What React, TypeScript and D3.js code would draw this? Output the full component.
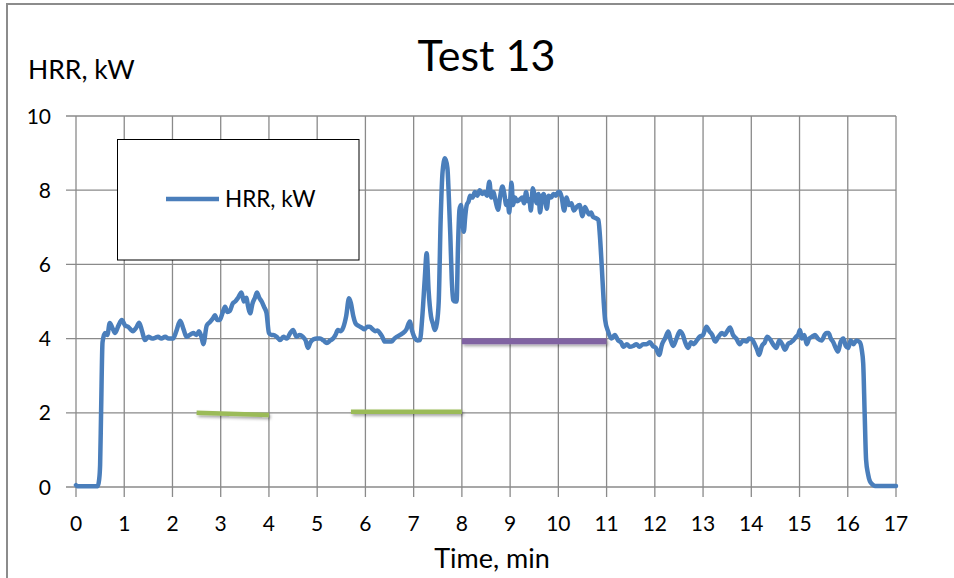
import React from "react";
import * as d3 from "d3";

// ---- data ----
const timeMin: number[] = [
  0.00, 0.03, 0.45, 0.48, 0.50, 0.52, 0.55, 0.60, 0.65, 0.70, 0.75, 0.81, 0.88, 0.95, 1.02, 1.08, 1.13, 1.18, 1.25, 1.31,
  1.37, 1.43, 1.50, 1.58, 1.64, 1.70, 1.77, 1.85, 1.92, 2.01, 2.08, 2.16, 2.23, 2.29, 2.36, 2.43, 2.50, 2.55, 2.60, 2.64,
  2.71, 2.78, 2.84, 2.88, 2.93, 2.98, 3.04, 3.09, 3.14, 3.19, 3.25, 3.30, 3.36, 3.43, 3.48, 3.53, 3.57, 3.61, 3.66, 3.71,
  3.75, 3.80, 3.85, 3.90, 3.95, 4.00, 4.05, 4.09, 4.16, 4.23, 4.30, 4.37, 4.44, 4.50, 4.57, 4.64, 4.70, 4.76, 4.81, 4.86,
  4.92, 5.00, 5.06, 5.13, 5.20, 5.27, 5.33, 5.38, 5.43, 5.49, 5.54, 5.60, 5.66, 5.70, 5.75, 5.80, 5.85, 5.92, 5.98, 6.04,
  6.09, 6.15, 6.20, 6.25, 6.30, 6.35, 6.40, 6.47, 6.54, 6.60, 6.65, 6.72, 6.78, 6.85, 6.92, 6.97, 7.03, 7.08, 7.13, 7.18,
  7.23, 7.27, 7.31, 7.36, 7.40, 7.44, 7.48, 7.52, 7.56, 7.60, 7.65, 7.70, 7.73, 7.76, 7.79, 7.82, 7.86, 7.89, 7.92, 7.95,
  7.98, 8.01, 8.04, 8.07, 8.10, 8.14, 8.17, 8.22, 8.27, 8.32, 8.37, 8.42, 8.47, 8.52, 8.57, 8.61, 8.65, 8.70, 8.75, 8.79,
  8.84, 8.88, 8.92, 8.95, 8.98, 9.03, 9.06, 9.10, 9.15, 9.20, 9.25, 9.29, 9.33, 9.37, 9.40, 9.43, 9.47, 9.51, 9.55, 9.59,
  9.62, 9.66, 9.70, 9.73, 9.76, 9.80, 9.85, 9.90, 9.95, 10.00, 10.03, 10.07, 10.12, 10.17, 10.22, 10.27, 10.32, 10.38, 10.44, 10.50,
  10.55, 10.59, 10.64, 10.68, 10.72, 10.77, 10.83, 10.86, 10.90, 10.94, 10.97, 11.03, 11.10, 11.17, 11.24, 11.30, 11.35, 11.42, 11.48, 11.55,
  11.62, 11.68, 11.76, 11.83, 11.90, 11.96, 12.02, 12.09, 12.15, 12.21, 12.28, 12.33, 12.38, 12.45, 12.52, 12.58, 12.63, 12.69, 12.75, 12.81,
  12.87, 12.93, 13.00, 13.07, 13.13, 13.19, 13.25, 13.32, 13.39, 13.45, 13.50, 13.56, 13.62, 13.69, 13.76, 13.83, 13.90, 13.95, 14.01, 14.07,
  14.12, 14.16, 14.22, 14.28, 14.33, 14.39, 14.45, 14.52, 14.58, 14.64, 14.70, 14.76, 14.82, 14.87, 14.93, 14.97, 15.01, 15.05, 15.10, 15.15,
  15.20, 15.26, 15.32, 15.38, 15.46, 15.52, 15.56, 15.60, 15.65, 15.70, 15.75, 15.80, 15.85, 15.91, 15.96, 16.01, 16.06, 16.12, 16.18, 16.25,
  16.29, 16.32, 16.35, 16.38, 16.42, 16.46, 16.52, 16.56, 17.00,
];

const hrrKW: number[] = [
  0.05, 0.02, 0.02, 0.2, 0.6, 2.0, 3.9, 4.15, 4.1, 4.42, 4.3, 4.15, 4.35, 4.5, 4.35, 4.32, 4.25, 4.2, 4.3, 4.43,
  4.2, 3.96, 4.05, 4.0, 4.02, 4.05, 4.0, 4.05, 4.0, 4.0, 4.2, 4.48, 4.25, 4.05, 4.1, 4.15, 4.1, 4.2, 4.05, 3.85,
  4.35, 4.45, 4.55, 4.63, 4.5, 4.5, 4.7, 4.86, 4.72, 4.75, 4.95, 5.0, 5.1, 5.24, 5.0, 5.1, 4.85, 4.68, 4.95, 5.1,
  5.24, 5.1, 5.0, 4.85, 4.69, 4.15, 4.1, 4.1, 4.05, 3.96, 4.05, 4.0, 4.15, 4.23, 4.05, 4.1, 4.05, 3.95, 3.75, 3.9,
  3.98, 4.0, 4.0, 3.95, 3.88, 3.95, 4.0, 4.1, 4.23, 4.2, 4.3, 4.6, 5.09, 4.95, 4.6, 4.4, 4.35, 4.3, 4.25, 4.32,
  4.32, 4.25, 4.2, 4.22, 4.15, 4.05, 3.92, 3.92, 3.92, 4.0, 4.05, 4.1, 4.15, 4.25, 4.46, 4.2, 4.0, 3.95, 3.96, 4.6,
  5.6, 6.3, 5.3, 4.6, 4.4, 4.23, 4.4, 5.0, 7.2, 8.5, 8.86, 8.6, 7.8, 6.8, 5.6, 5.04, 5.0, 5.0, 6.5, 7.47,
  7.6, 7.2, 6.88, 7.3, 7.6, 7.7, 7.85, 7.8, 7.95, 7.85, 8.0, 7.9, 7.95, 7.85, 8.23, 7.8, 7.95, 7.7, 7.47, 7.8,
  8.1, 7.9, 7.6, 7.7, 7.4, 8.2, 7.6, 7.8, 7.7, 7.75, 7.8, 7.65, 7.95, 7.7, 7.75, 7.45, 8.05, 7.85, 7.65, 7.9,
  7.4, 7.8, 7.9, 7.7, 7.5, 7.85, 7.8, 7.9, 7.85, 7.95, 7.95, 7.8, 7.45, 7.8, 7.6, 7.65, 7.45, 7.55, 7.6, 7.3,
  7.55, 7.45, 7.35, 7.4, 7.28, 7.25, 7.2, 6.8, 5.94, 5.0, 4.5, 4.2, 4.0, 4.1, 3.95, 3.9, 3.78, 3.85, 3.78, 3.8,
  3.85, 3.78, 3.85, 3.85, 3.9, 3.8, 3.75, 3.56, 3.85, 4.0, 4.19, 3.95, 3.8, 4.0, 4.2, 4.1, 3.9, 3.75, 3.9, 3.85,
  3.95, 4.05, 4.1, 4.32, 4.2, 4.1, 3.92, 4.05, 4.15, 4.1, 4.2, 4.3, 4.1, 4.0, 3.85, 3.95, 3.92, 4.0, 3.98, 3.85,
  3.7, 3.56, 3.8, 3.9, 4.05, 3.98, 3.85, 3.75, 3.95, 3.85, 3.7, 3.85, 3.9, 3.95, 4.05, 4.1, 4.23, 4.0, 4.1, 3.85,
  4.0, 4.05, 4.1, 4.0, 3.95, 4.1, 4.15, 4.15, 4.0, 3.9, 3.75, 3.65, 3.9, 4.0, 3.8, 3.75, 3.95, 3.85, 3.95, 3.9,
  3.7, 3.33, 2.0, 0.73, 0.35, 0.15, 0.06, 0.03, 0.03,
];

// reference level segments: [t0, v0, t1, v1]
const greenSeg1: number[] = [2.5, 2.0, 4.0, 1.94];
const greenSeg2: number[] = [5.7, 2.03, 8.0, 2.03];
const purpleSeg: number[] = [8.0, 3.93, 11.0, 3.93];

const xTicks: number[] = d3.range(0, 18, 1);
const yTicks: number[] = [0, 2, 4, 6, 8, 10];

const titleText = "Test 13";
const yAxisTitle = "HRR, kW";
const xAxisTitle = "Time, min";
const seriesName = "HRR, kW";

// ---- layout ----
const W = 954;
const H = 578;
const FONT = "Lato, 'Open Sans', sans-serif";
const BLUE = "#4A7EBB";
const GREEN = "#9BBB59";
const PURPLE = "#8064A2";
const GRID = "#8a8a8a";

export default function App() {
  const x = d3.scaleLinear().domain([0, 17]).range([76, 896]);
  const y = d3.scaleLinear().domain([0, 10]).range([487, 116]);

  const pts: [number, number][] = timeMin.map((t, i) => [t, hrrKW[i]]);
  const line = d3
    .line<[number, number]>()
    .x((d) => x(d[0]))
    .y((d) => y(d[1]))
    .curve(d3.curveMonotoneX);

  const seg = (s: number[], color: string, w: number) => (
    <line
      x1={x(s[0])}
      y1={y(s[1])}
      x2={x(s[2])}
      y2={y(s[3])}
      stroke={color}
      strokeWidth={w}
      filter="url(#shadow)"
    />
  );

  const [x0, x1] = x.range();
  const [y0, y1] = y.range();

  return (
    <svg
      width={W}
      height={H}
      style={{ position: "absolute", left: 0, top: 0, display: "block", background: "#fff" }}
    >
      <defs>
        <filter id="shadow" filterUnits="userSpaceOnUse" x={0} y={0} width={W} height={H}>
          <feDropShadow dx="1.5" dy="2" stdDeviation="1.5" floodColor="#000" floodOpacity="0.35" />
        </filter>
      </defs>
      <rect x={0} y={0} width={W} height={H} fill="#fff" />
      {/* chart frame */}
      <path d={`M7,${H} L7,4 L${W},4`} fill="none" stroke="#8c8c8c" strokeWidth={2} />

      {/* gridlines */}
      {yTicks.map((v) => (
        <line key={"gy" + v} x1={x0 - 10} x2={x1} y1={y(v)} y2={y(v)} stroke={GRID} strokeWidth={1.3} />
      ))}
      {xTicks.map((t) => (
        <line key={"gx" + t} x1={x(t)} x2={x(t)} y1={y1} y2={y0 + 10} stroke={GRID} strokeWidth={1.3} />
      ))}

      {/* tick labels */}
      {yTicks.map((v) => (
        <text key={"ly" + v} x={51} y={y(v) + 7.5} textAnchor="end" fontFamily={FONT} fontSize={21} fill="#000">
          {v}
        </text>
      ))}
      {xTicks.map((t) => (
        <text key={"lx" + t} x={x(t)} y={531} textAnchor="middle" fontFamily={FONT} fontSize={21} fill="#000">
          {t}
        </text>
      ))}

      {/* legend */}
      <rect x={117.5} y={139.5} width={241.5} height={120.5} fill="#fff" stroke="#000" strokeWidth={1} />
      <line x1={166} x2={219} y1={199} y2={199} stroke={BLUE} strokeWidth={4.5} />
      <text x={225} y={207} fontFamily={FONT} fontSize={22.5} fill="#000">
        {seriesName}
      </text>

      {/* reference segments */}
      {seg(greenSeg1, GREEN, 4.5)}
      {seg(greenSeg2, GREEN, 4.5)}
      {seg(purpleSeg, PURPLE, 6)}

      {/* series */}
      <path d={line(pts) || ""} fill="none" stroke={BLUE} strokeWidth={4.5} strokeLinejoin="round" strokeLinecap="round" />

      {/* titles */}
      <text x={486.5} y={71} textAnchor="middle" fontFamily={FONT} fontSize={43} fill="#000">
        {titleText}
      </text>
      <text x={28} y={79} fontFamily={FONT} fontSize={26.5} fill="#000">
        {yAxisTitle}
      </text>
      <text x={492} y={568} textAnchor="middle" fontFamily={FONT} fontSize={27} fill="#000">
        {xAxisTitle}
      </text>
    </svg>
  );
}
